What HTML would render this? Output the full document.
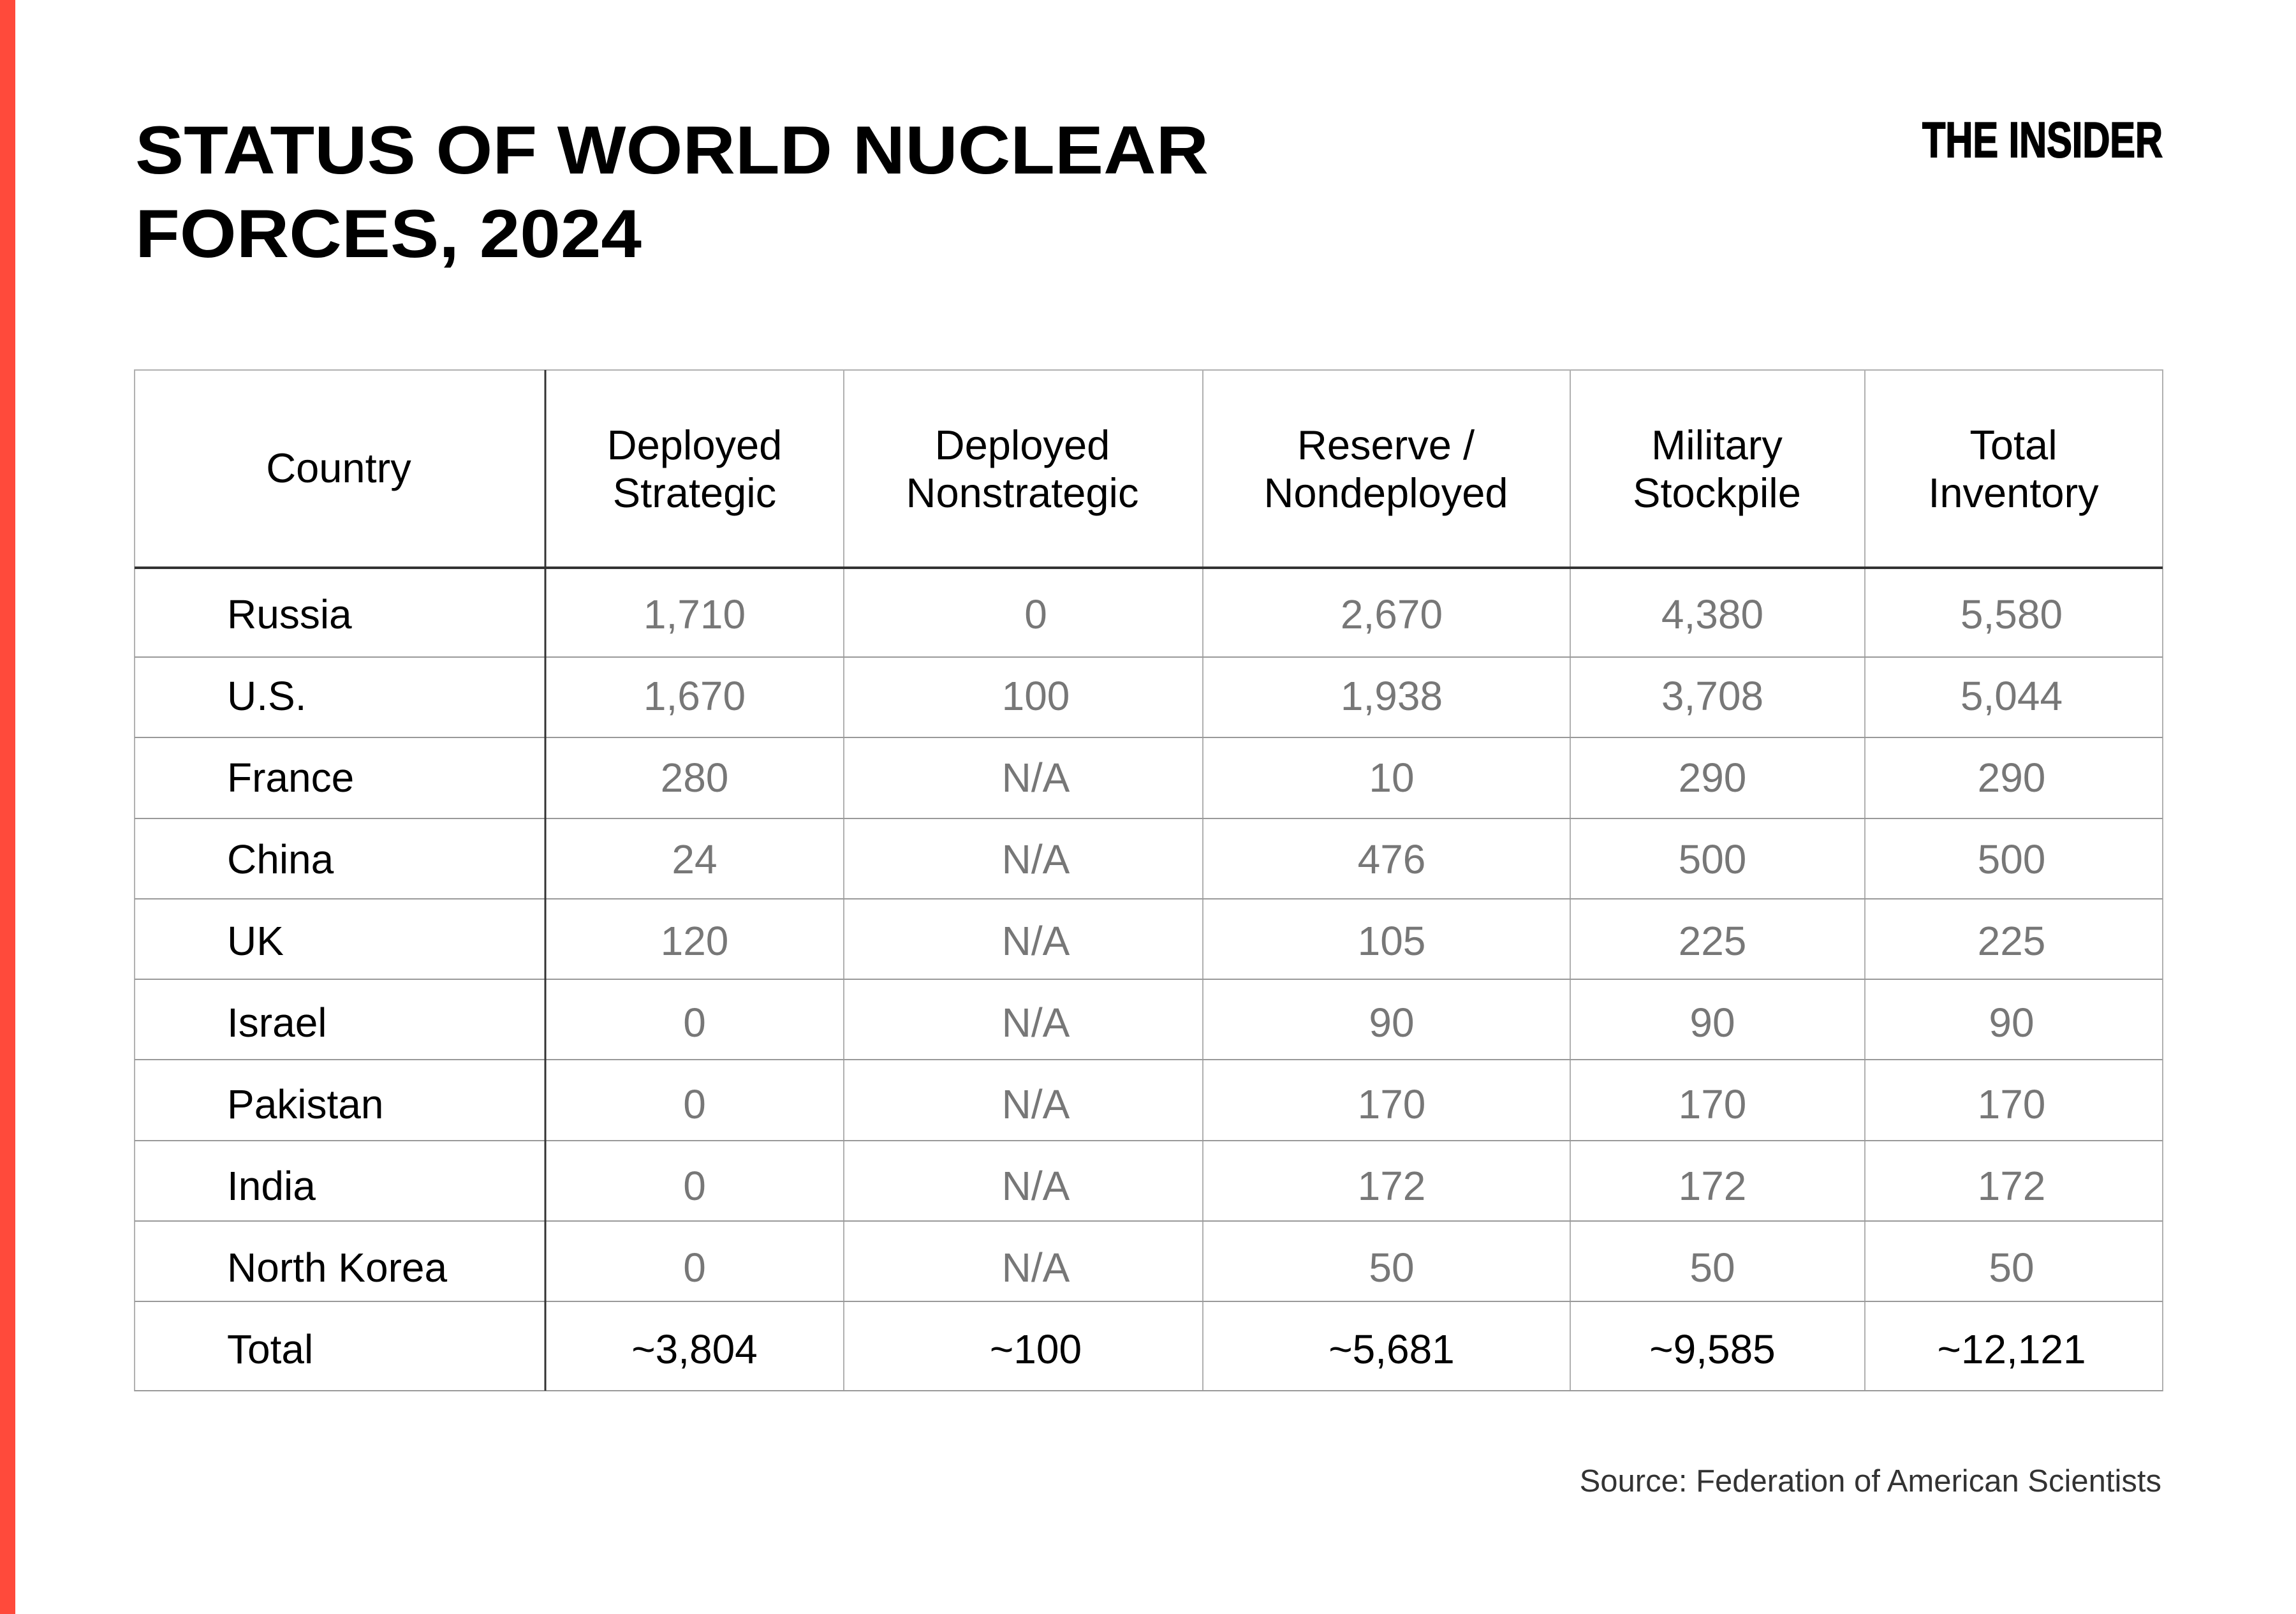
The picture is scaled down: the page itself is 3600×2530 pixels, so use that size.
<!DOCTYPE html>
<html><head><meta charset="utf-8"><style>
html,body{margin:0;padding:0;background:#fff;}
svg{display:block;}
text{font-family:"Liberation Sans",Arial,sans-serif;}
</style></head><body>
<svg width="3600" height="2530" viewBox="0 0 3600 2530" xmlns="http://www.w3.org/2000/svg">
<rect x="0" y="0" width="3600" height="2530" fill="#fff"/>
<rect x="0" y="0" width="24" height="2530" fill="#ff4a3b"/>
<text x="212" y="272" font-size="107" font-weight="bold" fill="#000" textLength="1683" lengthAdjust="spacingAndGlyphs">STATUS OF WORLD NUCLEAR</text>
<text x="212" y="403" font-size="107" font-weight="bold" fill="#000" textLength="794" lengthAdjust="spacingAndGlyphs">FORCES, 2024</text>
<text x="3014" y="246" font-size="78" font-weight="bold" fill="#000" stroke="#000" stroke-width="2" textLength="377" lengthAdjust="spacingAndGlyphs">THE INSIDER</text>

<g stroke="#b0b0b0" stroke-width="2" fill="none">
<rect x="211" y="580" width="3180" height="1600"/>
<line x1="1323" y1="580" x2="1323" y2="2180"/>
<line x1="1886" y1="580" x2="1886" y2="2180"/>
<line x1="2462" y1="580" x2="2462" y2="2180"/>
<line x1="2924" y1="580" x2="2924" y2="2180"/>
</g>
<g stroke="#999" stroke-width="2">
<line x1="211" y1="1030" x2="3391" y2="1030"/>
<line x1="211" y1="1156" x2="3391" y2="1156"/>
<line x1="211" y1="1283" x2="3391" y2="1283"/>
<line x1="211" y1="1409" x2="3391" y2="1409"/>
<line x1="211" y1="1535" x2="3391" y2="1535"/>
<line x1="211" y1="1661" x2="3391" y2="1661"/>
<line x1="211" y1="1788" x2="3391" y2="1788"/>
<line x1="211" y1="1914" x2="3391" y2="1914"/>
<line x1="211" y1="2040" x2="3391" y2="2040"/>
<line x1="211" y1="2180" x2="3391" y2="2180"/>
</g>
<line x1="855" y1="580" x2="855" y2="2180" stroke="#333" stroke-width="3"/>
<line x1="211" y1="890" x2="3391" y2="890" stroke="#333" stroke-width="4"/>

<g font-size="65" fill="#000" text-anchor="middle">
<text x="531" y="756">Country</text>
<text x="1089" y="720">Deployed</text><text x="1089" y="795">Strategic</text>
<text x="1603" y="720">Deployed</text><text x="1603" y="795">Nonstrategic</text>
<text x="2173" y="720">Reserve /</text><text x="2173" y="795">Nondeployed</text>
<text x="2692" y="720">Military</text><text x="2692" y="795">Stockpile</text>
<text x="3157" y="720">Total</text><text x="3157" y="795">Inventory</text>
</g>

<g font-size="64" fill="#000">
<text x="356" y="985">Russia</text>
<text x="356" y="1113">U.S.</text>
<text x="356" y="1241">France</text>
<text x="356" y="1369">China</text>
<text x="356" y="1497">UK</text>
<text x="356" y="1625">Israel</text>
<text x="356" y="1753">Pakistan</text>
<text x="356" y="1881">India</text>
<text x="356" y="2009">North Korea</text>
<text x="356" y="2137">Total</text>
</g>

<g font-size="64" fill="#777" text-anchor="middle">
<text x="1089" y="985">1,710</text><text x="1624" y="985">0</text><text x="2182" y="985">2,670</text><text x="2685" y="985">4,380</text><text x="3154" y="985">5,580</text>
<text x="1089" y="1113">1,670</text><text x="1624" y="1113">100</text><text x="2182" y="1113">1,938</text><text x="2685" y="1113">3,708</text><text x="3154" y="1113">5,044</text>
<text x="1089" y="1241">280</text><text x="1624" y="1241">N/A</text><text x="2182" y="1241">10</text><text x="2685" y="1241">290</text><text x="3154" y="1241">290</text>
<text x="1089" y="1369">24</text><text x="1624" y="1369">N/A</text><text x="2182" y="1369">476</text><text x="2685" y="1369">500</text><text x="3154" y="1369">500</text>
<text x="1089" y="1497">120</text><text x="1624" y="1497">N/A</text><text x="2182" y="1497">105</text><text x="2685" y="1497">225</text><text x="3154" y="1497">225</text>
<text x="1089" y="1625">0</text><text x="1624" y="1625">N/A</text><text x="2182" y="1625">90</text><text x="2685" y="1625">90</text><text x="3154" y="1625">90</text>
<text x="1089" y="1753">0</text><text x="1624" y="1753">N/A</text><text x="2182" y="1753">170</text><text x="2685" y="1753">170</text><text x="3154" y="1753">170</text>
<text x="1089" y="1881">0</text><text x="1624" y="1881">N/A</text><text x="2182" y="1881">172</text><text x="2685" y="1881">172</text><text x="3154" y="1881">172</text>
<text x="1089" y="2009">0</text><text x="1624" y="2009">N/A</text><text x="2182" y="2009">50</text><text x="2685" y="2009">50</text><text x="3154" y="2009">50</text>
</g>
<g font-size="64" fill="#000" text-anchor="middle">
<text x="1089" y="2137">~3,804</text><text x="1624" y="2137">~100</text><text x="2182" y="2137">~5,681</text><text x="2685" y="2137">~9,585</text><text x="3154" y="2137">~12,121</text>
</g>

<text x="3389" y="2338" font-size="49" fill="#333" text-anchor="end">Source: Federation of American Scientists</text>
</svg>
</body></html>
